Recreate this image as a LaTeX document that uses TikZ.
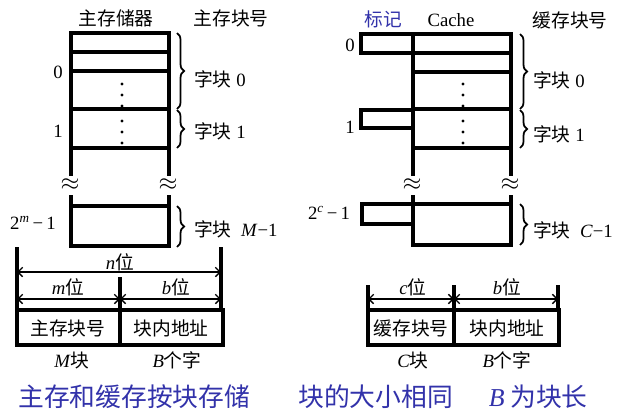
\documentclass[tikz,border=0pt]{standalone}
\usepackage{fontspec}
\setmainfont{Liberation Serif}
\newfontfamily\cjk{Noto Sans CJK SC}
\newcommand{\zh}[1]{{\cjk #1}}
\usetikzlibrary{arrows.meta,decorations.pathreplacing}
\definecolor{capblue}{RGB}{50,50,170}
\tikzset{
  wall/.style={line width=2.6pt},
  brc/.style={decorate,decoration={brace,amplitude=6pt},line width=1.5pt},
  dimarrow/.style={{Straight Barb[length=4pt]}-{Straight Barb[length=4pt]},line width=1.1pt},
  lbl/.style={font=\fontsize{16}{19}\selectfont,inner sep=0pt},
  brk/.style={font=\fontsize{22}{24}\selectfont,inner sep=0pt},
  captext/.style={font=\fontsize{22}{26}\selectfont\cjk,text=capblue,inner sep=0pt}
}

\begin{document}
\begin{tikzpicture}[x=0.03cm,y=-0.03cm]
    \useasboundingbox (0,0) rectangle (640,417);
    % main memory
    \draw[wall] (71,176) -- (71,33) -- (169,33) -- (169,176);
    \foreach \y in {52,71,109,148} {\draw[wall] (71,\y) -- (169,\y);}
    \draw[wall] (71,195) -- (71,246) -- (169,246) -- (169,195);
    \draw[wall] (71,206) -- (169,206);
    \foreach \y in {84,95,106,121,132,143} {\fill (122,\y) circle (1.3pt);}
    \node[brk] (mbrkL) at (70,185) {$\approx$};
    \node[brk] (mbrkR) at (168,185) {$\approx$};
    \node[lbl] (mhead) at (116,18) {\zh{主存储器}};
    \node[lbl] (mnum) at (231,18) {\zh{主存块号}};
    \node[lbl] (mzero) at (58,72) {0};
    \node[lbl] (mone) at (58,131) {1};
    \node[lbl] (mlast) at (33,223) {2\textsuperscript{\textit{m}}\,−\,1};
    \draw[brc] (177,33) -- (177,109);
    \draw[brc] (177,110) -- (177,148);
    \draw[brc] (177,206) -- (177,247);
    \node[lbl,anchor=west] (mblk0) at (194,79) {\zh{字块} 0};
    \node[lbl,anchor=west] (mblk1) at (194,131) {\zh{字块} 1};
    \node[lbl,anchor=west] (mblkM) at (194,229) {\zh{字块}\ \ \textit{M}−1};
    % cache
    \draw[wall] (413,176) -- (413,34) -- (511,34) -- (511,176);
    \foreach \y in {53,72,109,148} {\draw[wall] (413,\y) -- (511,\y);}
    \draw[wall] (413,34) -- (361,34) -- (361,53) -- (413,53);
    \draw[wall] (413,110) -- (361,110) -- (361,128) -- (413,128);
    \draw[wall] (413,195) -- (413,245) -- (511,245) -- (511,195);
    \draw[wall] (413,224) -- (362,224) -- (362,204) -- (511,204);
    \foreach \y in {84,95,106,121,132,143} {\fill (463,\y) circle (1.3pt);}
    \node[brk] (cbrkL) at (412,185) {$\approx$};
    \node[brk] (cbrkR) at (510,185) {$\approx$};
    \node[lbl,text=capblue] (ctag) at (383,19) {\zh{标记}};
    \node[lbl] (chead) at (451,20) {Cache};
    \node[lbl] (cnum) at (570,20) {\zh{缓存块号}};
    \node[lbl] (czero) at (350,45) {0};
    \node[lbl] (cone) at (350,127) {1};
    \node[lbl] (clast) at (329,213) {2\textsuperscript{\textit{c}}\,−\,1};
    \draw[brc] (520,34) -- (520,109);
    \draw[brc] (520,110) -- (520,148);
    \draw[brc] (520,204) -- (520,245);
    \node[lbl,anchor=west] (cblk0) at (533,80) {\zh{字块} 0};
    \node[lbl,anchor=west] (cblk1) at (533,134) {\zh{字块} 1};
    \node[lbl,anchor=west] (cblkC) at (533,230) {\zh{字块}\ \ \textit{C}−1};
    % main memory address
    \coordinate (ma) at (17,247);
    \coordinate (mb) at (221,247);
    \coordinate (mc) at (120,277);
    \draw[wall] (ma) -- (17,310);
    \draw[wall] (mb) -- (221,310);
    \draw[wall] (mc) -- (120,345);
    \draw[wall] (17,310) rectangle (223,345);
    \draw[dimarrow] (17,272) -- (221,272);
    \draw[dimarrow] (17,299) -- (120,299);
    \draw[dimarrow] (120,299) -- (221,299);
    \node[lbl] (nbits) at (120,262) {\textit{n}\zh{位}};
    \node[lbl] (mbits) at (68,287) {\textit{m}\zh{位}};
    \node[lbl] (bbitsA) at (176,287) {\textit{b}\zh{位}};
    \node[lbl] (mfield) at (68,328) {\zh{主存块号}};
    \node[lbl] (ofieldA) at (171,328) {\zh{块内地址}};
    \node[lbl] (mcount) at (72,360) {\textit{M}\zh{块}};
    \node[lbl] (wcountA) at (177,360) {\textit{B}\zh{个字}};
    % cache address
    \draw[wall] (368,285) -- (368,310);
    \draw[wall] (558,285) -- (558,310);
    \draw[wall] (454,285) -- (454,345);
    \draw[wall] (368,310) rectangle (559,345);
    \draw[dimarrow] (368,299) -- (454,299);
    \draw[dimarrow] (454,299) -- (558,299);
    \node[lbl] (cbits) at (413,287) {\textit{c}\zh{位}};
    \node[lbl] (bbitsB) at (507,287) {\textit{b}\zh{位}};
    \node[lbl] (cfield) at (411,328) {\zh{缓存块号}};
    \node[lbl] (ofieldB) at (507,328) {\zh{块内地址}};
    \node[lbl] (ccount) at (413,360) {\textit{C}\zh{块}};
    \node[lbl] (wcountB) at (507,360) {\textit{B}\zh{个字}};
    % caption
    \node[captext,anchor=west] (capL) at (18,397) {主存和缓存按块存储};
    \node[captext,anchor=west] (capM) at (298,397) {块的大小相同};
    \node[captext,anchor=east] (capR) at (588,397) {{\rmfamily\itshape B} 为块长};
\end{tikzpicture}
\end{document}
